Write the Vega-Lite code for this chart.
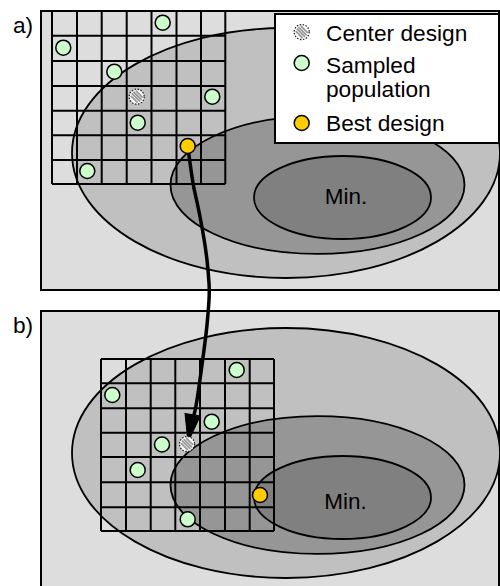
{
  "$schema": "https://vega.github.io/schema/vega-lite/v6.json",
  "width": 500,
  "height": 586,
  "padding": 0,
  "autosize": {"type": "fit", "contains": "padding"},
  "background": "white",
  "config": {"view": {"stroke": null}, "text": {"font": "Liberation Sans"}},
  "datasets": {
    "panels": [
      {"panel": "a", "x": 41, "x2": 499, "y": 11, "y2": 290},
      {"panel": "b", "x": 41, "x2": 499, "y": 311, "y2": 592}
    ],
    "ellipses": [
      {"panel": "a", "level": "outer", "x": 286, "y": 153},
      {"panel": "b", "level": "outer", "x": 286, "y": 453},
      {"panel": "a", "level": "middle", "x": 317.5, "y": 185},
      {"panel": "b", "level": "middle", "x": 317.5, "y": 485},
      {"panel": "a", "level": "inner", "x": 342.5, "y": 197.5},
      {"panel": "b", "level": "inner", "x": 342.5, "y": 497.5}
    ],
    "grid": [
      {"x": 52, "x2": 52, "y": 11, "y2": 184},
      {"x": 77, "x2": 77, "y": 11, "y2": 184},
      {"x": 101.7, "x2": 101.7, "y": 11, "y2": 184},
      {"x": 126.7, "x2": 126.7, "y": 11, "y2": 184},
      {"x": 151.5, "x2": 151.5, "y": 11, "y2": 184},
      {"x": 176.5, "x2": 176.5, "y": 11, "y2": 184},
      {"x": 201, "x2": 201, "y": 11, "y2": 184},
      {"x": 225.3, "x2": 225.3, "y": 11, "y2": 184},
      {"x": 52, "x2": 225.3, "y": 11, "y2": 11},
      {"x": 52, "x2": 225.3, "y": 35.7, "y2": 35.7},
      {"x": 52, "x2": 225.3, "y": 61, "y2": 61},
      {"x": 52, "x2": 225.3, "y": 86, "y2": 86},
      {"x": 52, "x2": 225.3, "y": 110.7, "y2": 110.7},
      {"x": 52, "x2": 225.3, "y": 135.3, "y2": 135.3},
      {"x": 52, "x2": 225.3, "y": 160, "y2": 160},
      {"x": 52, "x2": 225.3, "y": 184, "y2": 184},
      {"x": 101, "x2": 101, "y": 359, "y2": 531},
      {"x": 126, "x2": 126, "y": 359, "y2": 531},
      {"x": 150.7, "x2": 150.7, "y": 359, "y2": 531},
      {"x": 175.3, "x2": 175.3, "y": 359, "y2": 531},
      {"x": 200, "x2": 200, "y": 359, "y2": 531},
      {"x": 225, "x2": 225, "y": 359, "y2": 531},
      {"x": 249.7, "x2": 249.7, "y": 359, "y2": 531},
      {"x": 274, "x2": 274, "y": 359, "y2": 531},
      {"x": 101, "x2": 274, "y": 359, "y2": 359},
      {"x": 101, "x2": 274, "y": 383.3, "y2": 383.3},
      {"x": 101, "x2": 274, "y": 408.3, "y2": 408.3},
      {"x": 101, "x2": 274, "y": 432.7, "y2": 432.7},
      {"x": 101, "x2": 274, "y": 457, "y2": 457},
      {"x": 101, "x2": 274, "y": 482.3, "y2": 482.3},
      {"x": 101, "x2": 274, "y": 507.3, "y2": 507.3},
      {"x": 101, "x2": 274, "y": 531, "y2": 531}
    ],
    "arrow": [
      {"order": 1, "x": 188, "y": 148},
      {"order": 2, "x": 193, "y": 183},
      {"order": 3, "x": 197, "y": 202},
      {"order": 4, "x": 203, "y": 233},
      {"order": 5, "x": 207, "y": 260},
      {"order": 6, "x": 209, "y": 283},
      {"order": 7, "x": 209, "y": 300},
      {"order": 8, "x": 207, "y": 325},
      {"order": 9, "x": 204, "y": 350},
      {"order": 10, "x": 197, "y": 400},
      {"order": 11, "x": 193, "y": 418}
    ],
    "arrowhead": [{"x": 190.3, "y": 428.5}],
    "dots": [
      {"panel": "a", "kind": "sampled", "x": 162.7, "y": 22.7},
      {"panel": "a", "kind": "sampled", "x": 63.3, "y": 47.7},
      {"panel": "a", "kind": "sampled", "x": 114.3, "y": 71.7},
      {"panel": "a", "kind": "sampled", "x": 212.3, "y": 96.7},
      {"panel": "a", "kind": "sampled", "x": 137.7, "y": 122.7},
      {"panel": "a", "kind": "sampled", "x": 87.3, "y": 171},
      {"panel": "a", "kind": "best", "x": 187.7, "y": 146},
      {"panel": "b", "kind": "sampled", "x": 236.7, "y": 370},
      {"panel": "b", "kind": "sampled", "x": 112.3, "y": 395},
      {"panel": "b", "kind": "sampled", "x": 211.7, "y": 421.7},
      {"panel": "b", "kind": "sampled", "x": 162, "y": 444.5},
      {"panel": "b", "kind": "sampled", "x": 137.7, "y": 470},
      {"panel": "b", "kind": "sampled", "x": 187.7, "y": 519.3},
      {"panel": "b", "kind": "best", "x": 260, "y": 495},
      {"panel": "legend", "kind": "sampled", "x": 301.7, "y": 63},
      {"panel": "legend", "kind": "best", "x": 301.7, "y": 123}
    ],
    "centers": [
      {"panel": "a", "x": 136.7, "y": 96.7},
      {"panel": "b", "x": 187, "y": 444},
      {"panel": "legend", "x": 301.7, "y": 32}
    ],
    "legendbox": [{"x": 275, "x2": 499, "y": 14, "y2": 143}],
    "labels": [
      {"text": "a)", "x": 13, "y": 33.3},
      {"text": "b)", "x": 13, "y": 332.7},
      {"text": "Center design", "x": 326, "y": 40.7},
      {"text": "Sampled", "x": 326, "y": 72.7},
      {"text": "population", "x": 326, "y": 96.7},
      {"text": "Best design", "x": 326, "y": 130.7}
    ],
    "minlabels": [
      {"text": "Min.", "x": 346, "y": 204},
      {"text": "Min.", "x": 345.5, "y": 509}
    ]
  },
  "encoding": {
    "x": {"field": "x", "type": "quantitative", "scale": {"domain": [0, 500], "nice": false, "zero": false}, "axis": null},
    "y": {"field": "y", "type": "quantitative", "scale": {"domain": [0, 586], "reverse": true, "nice": false, "zero": false}, "axis": null}
  },
  "layer": [
    {
      "data": {"name": "panels"},
      "mark": {"type": "rect", "fill": "#dddddd", "stroke": "#000000", "strokeWidth": 2, "clip": true},
      "encoding": {"x2": {"field": "x2"}, "y2": {"field": "y2"}}
    },
    {
      "data": {"name": "ellipses"},
      "transform": [{"filter": "datum.level === 'outer'"}],
      "mark": {"type": "point", "shape": "M-1,0A1,0.584,0,1,0,1,0A1,0.584,0,1,0,-1,0Z", "size": 183184, "filled": true, "fill": "#c0c0c0", "stroke": "#000000", "strokeWidth": 1.8, "opacity": 1, "clip": true}
    },
    {
      "data": {"name": "ellipses"},
      "transform": [{"filter": "datum.level === 'middle'"}],
      "mark": {"type": "point", "shape": "M-1,0A1,0.469,0,1,0,1,0A1,0.469,0,1,0,-1,0Z", "size": 86436, "filled": true, "fill": "#969696", "stroke": "#000000", "strokeWidth": 1.8, "opacity": 1, "clip": true}
    },
    {
      "data": {"name": "ellipses"},
      "transform": [{"filter": "datum.level === 'inner'"}],
      "mark": {"type": "point", "shape": "M-1,0A1,0.469,0,1,0,1,0A1,0.469,0,1,0,-1,0Z", "size": 31329, "filled": true, "fill": "#808080", "stroke": "#000000", "strokeWidth": 1.8, "opacity": 1, "clip": true}
    },
    {
      "data": {"name": "grid"},
      "mark": {"type": "rule", "stroke": "#000000", "strokeWidth": 2},
      "encoding": {"x2": {"field": "x2"}, "y2": {"field": "y2"}}
    },
    {
      "data": {"name": "arrow"},
      "mark": {"type": "line", "stroke": "#000000", "strokeWidth": 3.5, "interpolate": "natural"},
      "encoding": {"order": {"field": "order", "type": "quantitative"}}
    },
    {
      "data": {"name": "arrowhead"},
      "mark": {"type": "point", "shape": "M-0.55,-1L0.55,-1L0,1Z", "size": 784, "angle": 9.5, "filled": true, "fill": "#000000", "stroke": "#000000", "strokeWidth": 1, "opacity": 1}
    },
    {
      "data": {"name": "legendbox"},
      "mark": {"type": "rect", "fill": "#ffffff", "stroke": "#000000", "strokeWidth": 2},
      "encoding": {"x2": {"field": "x2"}, "y2": {"field": "y2"}}
    },
    {
      "data": {"name": "dots"},
      "mark": {"type": "point", "shape": "circle", "filled": true, "stroke": "#000000", "strokeWidth": 1.5, "opacity": 1},
      "encoding": {
        "fill": {"field": "kind", "type": "nominal", "scale": {"domain": ["sampled", "best"], "range": ["#ccffcc", "#ffcc00"]}, "legend": null},
        "size": {"field": "panel", "type": "ordinal", "scale": {"domain": ["a", "b", "legend"], "range": [225, 225, 169]}, "legend": null}
      }
    },
    {
      "data": {"name": "centers"},
      "mark": {"type": "point", "shape": "circle", "filled": true, "fill": "#ffffff", "stroke": "#222222", "strokeWidth": 1.3, "strokeDash": [1.5, 1.5], "opacity": 1},
      "encoding": {
        "size": {"field": "panel", "type": "ordinal", "scale": {"domain": ["a", "b", "legend"], "range": [225, 225, 169]}, "legend": null}
      }
    },
    {
      "data": {"name": "centers"},
      "mark": {"type": "point", "shape": "M-0.8,-0.12L0.12,0.8M-0.66,-0.44L0.44,0.66M-0.44,-0.66L0.66,0.44M-0.12,-0.8L0.8,0.12", "filled": false, "stroke": "#9a9a9a", "strokeWidth": 1.8, "opacity": 1},
      "encoding": {
        "size": {"field": "panel", "type": "ordinal", "scale": {"domain": ["a", "b", "legend"], "range": [225, 225, 169]}, "legend": null}
      }
    },
    {
      "data": {"name": "labels"},
      "mark": {"type": "text", "align": "left", "baseline": "alphabetic", "fontSize": 22.7, "color": "#000000"},
      "encoding": {"text": {"field": "text"}}
    },
    {
      "data": {"name": "minlabels"},
      "mark": {"type": "text", "align": "center", "baseline": "alphabetic", "fontSize": 22.5, "color": "#000000"},
      "encoding": {"text": {"field": "text"}}
    }
  ]
}
